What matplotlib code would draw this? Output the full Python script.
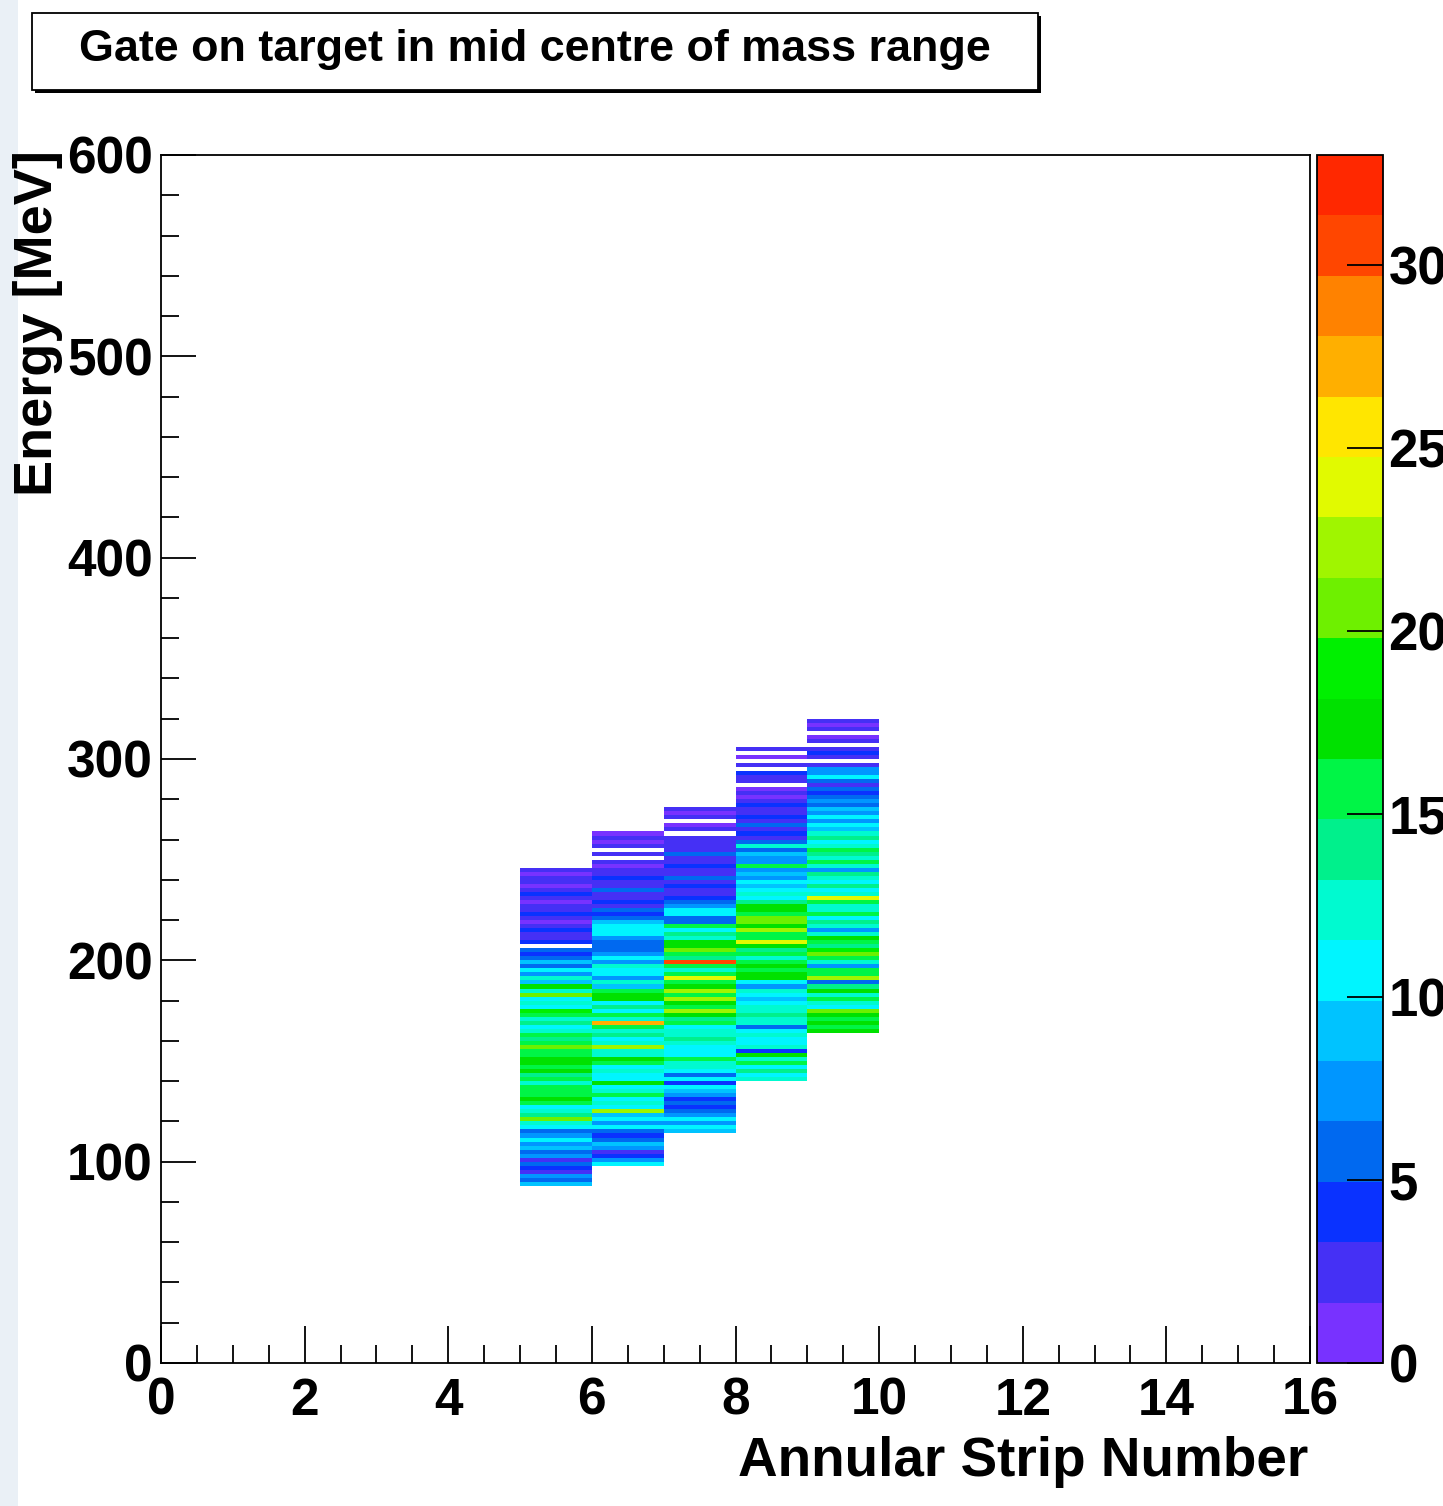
import numpy as np
import matplotlib
matplotlib.use("Agg")
import matplotlib.pyplot as plt
from matplotlib.colors import ListedColormap, BoundaryNorm
from matplotlib.patches import Rectangle
from matplotlib.ticker import MultipleLocator

plt.rcParams['font.family'] = ['Liberation Sans', 'DejaVu Sans']
plt.rcParams['font.weight'] = 'bold'

#### histogram content: one list per annular strip, 2 MeV energy bins
bin_width = 2
strips = [5, 6, 7, 8, 9]
e_start = [88, 98, 114, 140, 164]

counts_5 = [9, 5, 7, 3, 4, 6, 3, 8, 5, 9, 7, 10, 8, 6, 10, 13, 21, 14, 12, 11,
            15, 17, 15, 15, 16, 13, 15, 14, 18, 15, 18, 17, 16, 16, 20, 16, 14, 16, 13, 11,
            14, 12, 15, 19, 11, 13, 10, 21, 12, 17, 9, 13, 8, 11, 6, 9, 5, 4, 5, 0,
            4, 3, 2, 4, 2, 1, 3, 4, 2, 3, 1, 2, 4, 2, 1, 3, 2, 1, 2]
counts_6 = [10, 8, 4, 3, 7, 9, 5, 4, 6, 10, 8, 11, 9, 23, 10, 13, 11, 16, 12, 10,
            17, 11, 10, 12, 11, 15, 18, 12, 13, 22, 12, 11, 14, 12, 15, 28, 13, 16, 11, 14,
            10, 17, 18, 15, 9, 12, 8, 11, 10, 13, 7, 10, 8, 6, 5, 5, 7, 11, 10, 11,
            9, 5, 4, 5, 3, 4, 2, 3, 5, 2, 3, 4, 2, 3, 1, 2, 0, 2, 0, 2,
            1, 2, 1]
counts_7 = [9, 10, 8, 10, 7, 6, 4, 5, 4, 7, 9, 10, 4, 10, 6, 11, 13, 12, 15, 11,
            11, 10, 12, 14, 12, 13, 11, 16, 14, 17, 22, 15, 17, 22, 16, 22, 17, 15, 24, 16,
            13, 15, 30, 14, 16, 21, 17, 18, 12, 14, 11, 16, 6, 5, 11, 11, 7, 5, 4, 3,
            2, 4, 3, 5, 2, 3, 4, 2, 3, 5, 2, 3, 2, 3, 0, 2, 1, 0, 2, 1,
            2]
counts_8 = [12, 10, 14, 11, 15, 13, 17, 4, 12, 11, 10, 12, 11, 6, 13, 12, 14, 13, 12, 11,
            9, 10, 12, 8, 11, 17, 18, 16, 17, 15, 13, 16, 14, 17, 24, 16, 15, 23, 17, 21,
            20, 16, 18, 18, 14, 11, 12, 10, 9, 11, 8, 9, 7, 16, 8, 7, 9, 6, 13, 5,
            3, 4, 3, 5, 2, 4, 3, 2, 4, 2, 1, 2, 1, 0, 3, 2, 4, 0, 2, 0,
            1, 0, 2]
counts_9 = [17, 16, 18, 15, 17, 21, 11, 13, 16, 12, 17, 14, 5, 23, 16, 15, 7, 13, 15, 20,
            19, 14, 16, 17, 13, 7, 12, 14, 11, 16, 13, 12, 15, 24, 13, 11, 14, 10, 12, 14,
            7, 13, 15, 12, 14, 16, 13, 11, 14, 12, 9, 11, 8, 10, 7, 9, 6, 8, 5, 4,
            6, 3, 5, 10, 7, 8, 2, 0, 3, 4, 2, 0, 2, 1, 0, 2, 1, 2]
all_counts = [counts_5, counts_6, counts_7, counts_8, counts_9]

z_max = 33.0
n_levels = 20
palette = ['#7832ff', '#4530f5', '#0a32ff', '#0069f0', '#0096ff', '#00c3ff',
           '#00f5ff', '#00fad0', '#00f08c', '#00f546', '#00e100', '#00f000',
           '#6ef000', '#a0f500', '#e1fa00', '#ffe600', '#ffaf00', '#ff8200',
           '#ff4600', '#ff2800']

cmap = ListedColormap(palette)
cmap.set_bad((1, 1, 1, 0))
norm = BoundaryNorm(np.linspace(0, z_max, n_levels + 1), cmap.N)

W, H = 1443, 1506
fig = plt.figure(figsize=(W / 100, H / 100), dpi=100)

# faint screenshot background strip on the left
fig.patches.append(Rectangle((0, 0), 18 / W, 1, transform=fig.transFigure,
                             facecolor='#eaf0f6', edgecolor='none', zorder=0))

ax = fig.add_axes([161 / W, 1 - 1363 / H, (1310 - 161) / W, (1363 - 155) / H])
cax = fig.add_axes([1317 / W, 1 - 1363 / H, (1383 - 1317) / W, (1363 - 155) / H])

for s, e0, cts in zip(strips, e_start, all_counts):
    c = np.ma.masked_equal(np.array(cts, dtype=float), 0).reshape(-1, 1)
    yedges = e0 + bin_width * np.arange(len(cts) + 1)
    ax.pcolormesh([s, s + 1], yedges, c, cmap=cmap, norm=norm, shading='flat')

ax.set_xlim(0, 16)
ax.set_ylim(0, 600)
ax.xaxis.set_major_locator(MultipleLocator(2))
ax.xaxis.set_minor_locator(MultipleLocator(0.5))
ax.yaxis.set_major_locator(MultipleLocator(100))
ax.yaxis.set_minor_locator(MultipleLocator(20))
ax.tick_params(axis='x', which='major', direction='in', length=27, width=1.3,
               labelsize=37, pad=10)
ax.tick_params(axis='x', which='minor', direction='in', length=13, width=1.3)
ax.tick_params(axis='y', which='major', direction='in', length=25, width=1.3,
               labelsize=37, pad=6)
ax.tick_params(axis='y', which='minor', direction='in', length=13, width=1.3)
for sp in ax.spines.values():
    sp.set_linewidth(1.3)

sm = plt.cm.ScalarMappable(cmap=cmap, norm=norm)
cb = fig.colorbar(sm, cax=cax, ticks=np.arange(0, 31, 5))
cb.outline.set_linewidth(1.3)
cax.minorticks_off()
cax.tick_params(which='both', direction='in', length=26, width=1.3, labelsize=38, pad=4)
cax.tick_params(which='minor', length=0)
cb.ax.set_yticklabels([str(t) for t in range(0, 31, 5)])

fig.text(1308 / W, 1 - 1462 / H, 'Annular Strip Number', ha='right', va='center',
         fontsize=39.5, fontweight='bold')
fig.text(38 / W, 1 - 150 / H, 'Energy [MeV]', rotation=90, ha='center', va='top',
         fontsize=39, fontweight='bold')

# title box with shadow
fig.patches.append(Rectangle((35 / W, 1 - 93 / H), (1038 - 32) / W, (90 - 13) / H,
                             transform=fig.transFigure, facecolor='black',
                             edgecolor='none', zorder=1))
fig.patches.append(Rectangle((32 / W, 1 - 90 / H), (1038 - 32) / W, (90 - 13) / H,
                             transform=fig.transFigure, facecolor='white',
                             edgecolor='black', linewidth=1.3, zorder=2))
fig.text(535 / W, 1 - 50 / H, 'Gate on target in mid centre of mass range',
         ha='center', va='center', fontsize=32.3, fontweight='bold', zorder=3)

fig.savefig('out.png', dpi=100)
